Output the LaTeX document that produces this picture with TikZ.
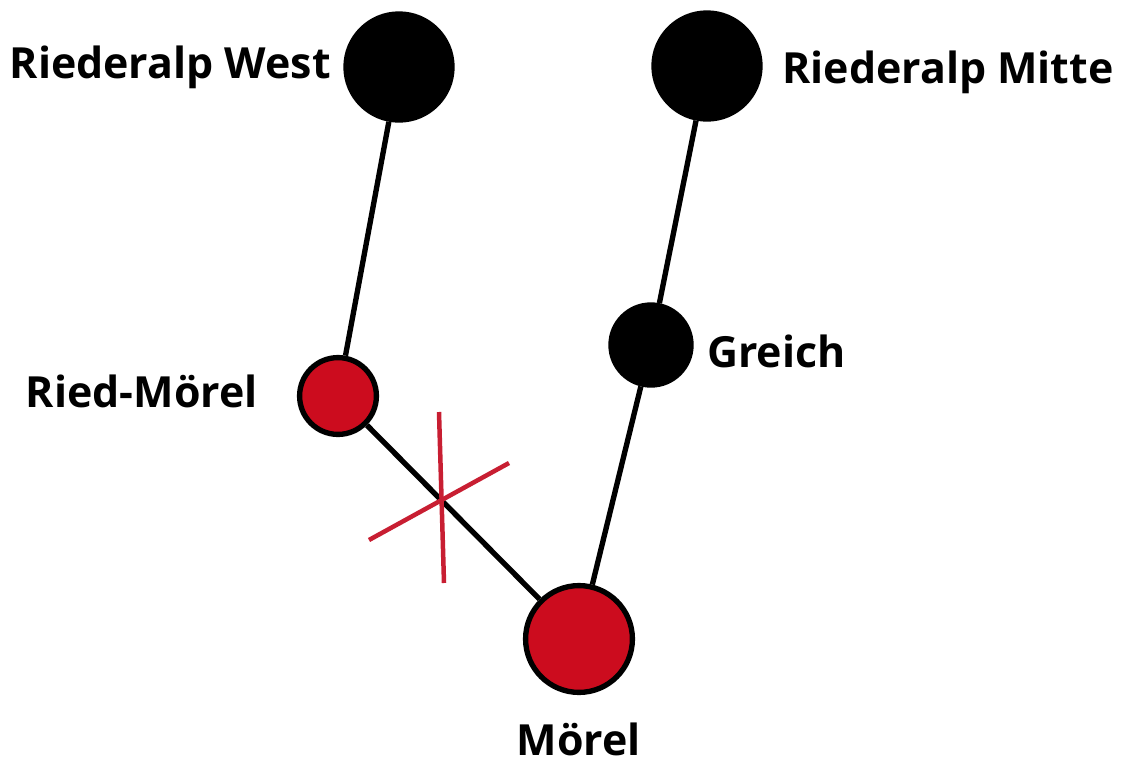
\documentclass[tikz,border=0pt]{standalone}
\usepackage{fontspec}
\setmainfont{Open Sans}
\definecolor{stopred}{RGB}{204, 12, 30}
\definecolor{crossred}{RGB}{200, 30, 50}
\usepackage{tikz}
\usetikzlibrary{positioning, calc}

\begin{document}
\begin{tikzpicture}[
  x=0.025cm, y=-0.025cm,
  bigstop/.style={circle, draw=black, fill=black, line width=3.8pt, minimum size=2.65cm, inner sep=0pt},
  smallstop/.style={circle, draw=black, fill=black, line width=3.8pt, minimum size=2cm, inner sep=0pt},
  redstop/.style={circle, draw=black, fill=stopred, line width=3.8pt, inner sep=0pt},
  track/.style={line width=3.8pt, black},
  stoplabel/.style={inner sep=0pt, font=\fontsize{30.5}{36}\selectfont\bfseries}
]
  \useasboundingbox (0,0) rectangle (1121,764);

  % Stations
  \node[bigstop] (west) at (399, 67) {};
  \node[bigstop] (mitte) at (707, 66) {};
  \node[smallstop] (greich) at (651, 345) {};
  \node[redstop, minimum size=1.92cm] (riedmoerel) at (338, 396) {};
  \node[redstop, minimum size=2.67cm] (moerel) at (579, 639) {};

  % Labels
  \node[stoplabel, anchor=base east] (westlbl) at (331, 78) {Riederalp West};
  \node[stoplabel, anchor=base west] (mittelbl) at (782, 83) {Riederalp Mitte};
  \node[stoplabel, anchor=base west] (greichlbl) at (707, 367) {Greich};
  \node[stoplabel, anchor=base east] (riedlbl) at (258, 407) {Ried-Mörel};
  \node[stoplabel, anchor=base] (moerellbl) at (579, 755) {Mörel};

  % Tracks
  \draw[track] (west) -- (riedmoerel);
  \draw[track] (mitte) -- (greich);
  \draw[track] (greich) -- (moerel);
  \draw[track] (riedmoerel) -- (moerel);

  % Closed line
  \coordinate (xtop) at (439, 412);
  \coordinate (xbot) at (444, 583);
  \coordinate (xleft) at (369, 540);
  \coordinate (xright) at (509, 463);
  \draw[crossred, line width=3.2pt] (xtop) -- (xbot);
  \draw[crossred, line width=3.2pt] (xleft) -- (xright);
\end{tikzpicture}
\end{document}
